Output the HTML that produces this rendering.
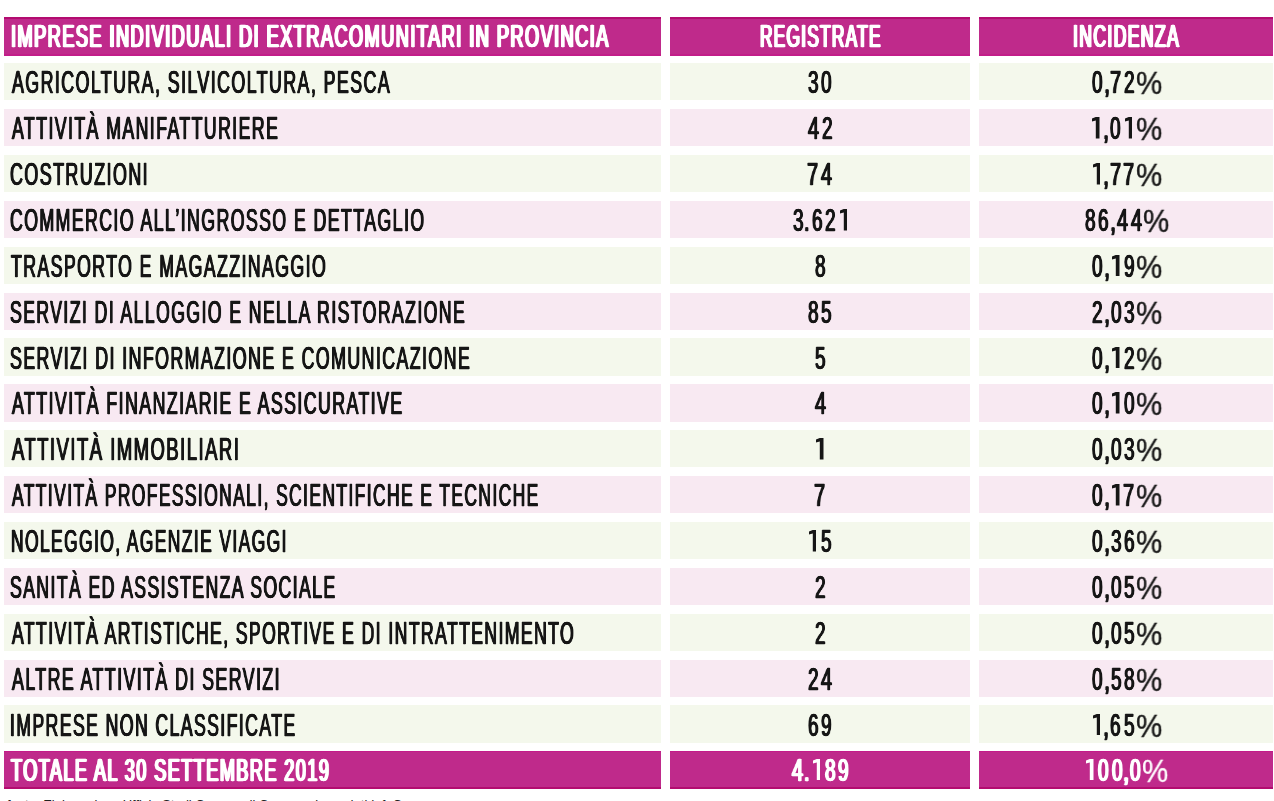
<!DOCTYPE html>
<html><head><meta charset="utf-8"><style>
*{margin:0;padding:0;box-sizing:border-box}
html,body{width:1274px;height:801px;background:#fff;overflow:hidden;position:relative}
body{font-family:"Liberation Sans",sans-serif;font-weight:bold;font-size:30.5px;letter-spacing:2.5px}
.c{position:absolute;height:38px}
.g{background:#f4f8ec}
.p{background:#f8e9f2}
.m{background:#bf2a8b}
.mt{box-shadow:inset 0 2px 0 #b30c70,inset 0 -2px 0 #c21d89}
.mb{box-shadow:inset 0 1px 0 #c41a8a,inset 0 -2px 0 #b30c70}
.t{position:absolute;white-space:nowrap;line-height:1;color:#161616;-webkit-text-stroke:0.4px #161616;transform-origin:0 0;font-weight:normal;text-shadow:0.9px 0 0 #161616,-0.9px 0 0 #161616,0.45px 0 0 #161616,-0.45px 0 0 #161616}
.d{letter-spacing:0;-webkit-text-stroke-width:0.5px;text-shadow:1.0px 0 0 #161616,-1.0px 0 0 #161616,0.5px 0 0 #161616,-0.5px 0 0 #161616;font-weight:normal}
.t{will-change:transform}
.pc{font-weight:normal;-webkit-text-stroke-width:0.4px;text-shadow:none}
.m .t{color:#fff;-webkit-text-stroke:0.5px #fff;text-shadow:1.8px 0 0 #fff,-1.8px 0 0 #fff,0.9px 0 0 #fff,-0.9px 0 0 #fff}
.m .d{text-shadow:1.4px 0 0 #fff,-1.4px 0 0 #fff,0.7px 0 0 #fff,-0.7px 0 0 #fff;-webkit-text-stroke-width:0.5px}
.o{position:absolute;top:8.5px;width:7.5px;height:21.6px;fill:#161616}
.m .o{fill:#fff}
.m .pc{text-shadow:none;-webkit-text-stroke-width:0.3px}
</style></head>
<body>
<div class="c m mt" style="left:4px;top:17.000px;width:657px;height:38.5px"><span class="t" style="left:6.81px;top:3.80px;transform:scaleX(0.5940)">IMPRESE INDIVIDUALI DI EXTRACOMUNITARI IN PROVINCIA</span></div>
<div class="c m mt" style="left:670px;top:17.000px;width:300px;height:38.5px"><span class="t" style="left:89.84px;top:3.80px;transform:scaleX(0.5600)">REGISTRATE</span></div>
<div class="c m mt" style="left:979px;top:17.000px;width:294px;height:38.5px"><span class="t" style="left:94.13px;top:3.80px;transform:scaleX(0.5735)">INCIDENZA</span></div>
<div class="c g" style="left:4px;top:63.175px;width:657px;height:37.3px"><span class="t" style="left:7.58px;top:4.20px;transform:scaleX(0.5822)">AGRICOLTURA, SILVICOLTURA, PESCA</span></div>
<div class="c g" style="left:670px;top:63.175px;width:300px;height:37.3px"><span class="t d" style="left:138.05px;top:4.20px;transform:scaleX(0.6176)">3</span><span class="t d" style="left:151.45px;top:4.20px;transform:scaleX(0.6176)">0</span></div>
<div class="c g" style="left:979px;top:63.175px;width:294px;height:37.3px"><span class="t d" style="left:113.22px;top:4.20px;transform:scaleX(0.6176)">0</span><span class="t d" style="left:124.63px;top:4.20px;transform:scaleX(0.7200)">,</span><span class="t d" style="left:130.92px;top:4.20px;transform:scaleX(0.6562)">7</span><span class="t d" style="left:144.97px;top:4.20px;transform:scaleX(0.6176)">2</span><span class="t d pc" style="left:156.81px;top:3.08px;transform:scale(0.9680,1.0545)">%</span></div>
<div class="c p" style="left:4px;top:109.050px;width:657px;height:37.3px"><span class="t" style="left:7.58px;top:4.20px;transform:scaleX(0.5793)">ATTIVITÀ MANIFATTURIERE</span></div>
<div class="c p" style="left:670px;top:109.050px;width:300px;height:37.3px"><span class="t d" style="left:137.80px;top:4.20px;transform:scaleX(0.6471)">4</span><span class="t d" style="left:151.70px;top:4.20px;transform:scaleX(0.6176)">2</span></div>
<div class="c p" style="left:979px;top:109.050px;width:294px;height:37.3px"><svg class="o" style="left:113.07px;top:8.20px" viewBox="0 0 7.5 21.6"><path d="M3.7 0H7.5V21.6H3.8V3.5L0 4.4V1.4Z"/></svg><span class="t d" style="left:123.88px;top:4.20px;transform:scaleX(0.7200)">,</span><span class="t d" style="left:130.82px;top:4.20px;transform:scaleX(0.6176)">0</span><svg class="o" style="left:145.72px;top:8.20px" viewBox="0 0 7.5 21.6"><path d="M3.7 0H7.5V21.6H3.8V3.5L0 4.4V1.4Z"/></svg><span class="t d pc" style="left:156.96px;top:3.08px;transform:scale(0.9680,1.0545)">%</span></div>
<div class="c g" style="left:4px;top:154.925px;width:657px;height:37.3px"><span class="t" style="left:6.41px;top:4.20px;transform:scaleX(0.5853)">COSTRUZIONI</span></div>
<div class="c g" style="left:670px;top:154.925px;width:300px;height:37.3px"><span class="t d" style="left:137.14px;top:4.20px;transform:scaleX(0.6562)">7</span><span class="t d" style="left:151.20px;top:4.20px;transform:scaleX(0.6471)">4</span></div>
<div class="c g" style="left:979px;top:154.925px;width:294px;height:37.3px"><svg class="o" style="left:113.52px;top:8.20px" viewBox="0 0 7.5 21.6"><path d="M3.7 0H7.5V21.6H3.8V3.5L0 4.4V1.4Z"/></svg><span class="t d" style="left:124.33px;top:4.20px;transform:scaleX(0.7200)">,</span><span class="t d" style="left:130.62px;top:4.20px;transform:scaleX(0.6562)">7</span><span class="t d" style="left:144.02px;top:4.20px;transform:scaleX(0.6562)">7</span><span class="t d pc" style="left:156.51px;top:3.08px;transform:scale(0.9680,1.0545)">%</span></div>
<div class="c p" style="left:4px;top:200.800px;width:657px;height:37.3px"><span class="t" style="left:6.42px;top:4.20px;transform:scaleX(0.5799)">COMMERCIO ALL’INGROSSO E DETTAGLIO</span></div>
<div class="c p" style="left:670px;top:200.800px;width:300px;height:37.3px"><span class="t d" style="left:122.55px;top:4.20px;transform:scaleX(0.6176)">3</span><span class="t d" style="left:134.47px;top:4.20px;transform:scaleX(0.6400)">.</span><span class="t d" style="left:141.65px;top:4.20px;transform:scaleX(0.6176)">6</span><span class="t d" style="left:155.05px;top:4.20px;transform:scaleX(0.6176)">2</span><svg class="o" style="left:169.95px;top:8.20px" viewBox="0 0 7.5 21.6"><path d="M3.7 0H7.5V21.6H3.8V3.5L0 4.4V1.4Z"/></svg></div>
<div class="c p" style="left:979px;top:200.800px;width:294px;height:37.3px"><span class="t d" style="left:106.02px;top:4.20px;transform:scaleX(0.6176)">8</span><span class="t d" style="left:119.42px;top:4.20px;transform:scaleX(0.6176)">6</span><span class="t d" style="left:130.83px;top:4.20px;transform:scaleX(0.7200)">,</span><span class="t d" style="left:137.77px;top:4.20px;transform:scaleX(0.6471)">4</span><span class="t d" style="left:151.67px;top:4.20px;transform:scaleX(0.6471)">4</span><span class="t d pc" style="left:164.01px;top:3.08px;transform:scale(0.9680,1.0545)">%</span></div>
<div class="c g" style="left:4px;top:246.675px;width:657px;height:37.3px"><span class="t" style="left:6.50px;top:4.20px;transform:scaleX(0.5790)">TRASPORTO E MAGAZZINAGGIO</span></div>
<div class="c g" style="left:670px;top:246.675px;width:300px;height:37.3px"><span class="t d" style="left:144.75px;top:4.20px;transform:scaleX(0.6176)">8</span></div>
<div class="c g" style="left:979px;top:246.675px;width:294px;height:37.3px"><span class="t d" style="left:113.22px;top:4.20px;transform:scaleX(0.6176)">0</span><span class="t d" style="left:124.63px;top:4.20px;transform:scaleX(0.7200)">,</span><svg class="o" style="left:133.07px;top:8.20px" viewBox="0 0 7.5 21.6"><path d="M3.7 0H7.5V21.6H3.8V3.5L0 4.4V1.4Z"/></svg><span class="t d" style="left:144.97px;top:4.20px;transform:scaleX(0.6176)">9</span><span class="t d pc" style="left:156.81px;top:3.08px;transform:scale(0.9680,1.0545)">%</span></div>
<div class="c p" style="left:4px;top:292.550px;width:657px;height:37.3px"><span class="t" style="left:6.42px;top:4.20px;transform:scaleX(0.5771)">SERVIZI DI ALLOGGIO E NELLA RISTORAZIONE</span></div>
<div class="c p" style="left:670px;top:292.550px;width:300px;height:37.3px"><span class="t d" style="left:138.05px;top:4.20px;transform:scaleX(0.6176)">8</span><span class="t d" style="left:151.45px;top:4.20px;transform:scaleX(0.6176)">5</span></div>
<div class="c p" style="left:979px;top:292.550px;width:294px;height:37.3px"><span class="t d" style="left:113.22px;top:4.20px;transform:scaleX(0.6176)">2</span><span class="t d" style="left:124.63px;top:4.20px;transform:scaleX(0.7200)">,</span><span class="t d" style="left:131.57px;top:4.20px;transform:scaleX(0.6176)">0</span><span class="t d" style="left:144.97px;top:4.20px;transform:scaleX(0.6176)">3</span><span class="t d pc" style="left:156.81px;top:3.08px;transform:scale(0.9680,1.0545)">%</span></div>
<div class="c g" style="left:4px;top:338.425px;width:657px;height:37.3px"><span class="t" style="left:6.42px;top:4.20px;transform:scaleX(0.5813)">SERVIZI DI INFORMAZIONE E COMUNICAZIONE</span></div>
<div class="c g" style="left:670px;top:338.425px;width:300px;height:37.3px"><span class="t d" style="left:144.75px;top:4.20px;transform:scaleX(0.6176)">5</span></div>
<div class="c g" style="left:979px;top:338.425px;width:294px;height:37.3px"><span class="t d" style="left:113.22px;top:4.20px;transform:scaleX(0.6176)">0</span><span class="t d" style="left:124.63px;top:4.20px;transform:scaleX(0.7200)">,</span><svg class="o" style="left:133.07px;top:8.20px" viewBox="0 0 7.5 21.6"><path d="M3.7 0H7.5V21.6H3.8V3.5L0 4.4V1.4Z"/></svg><span class="t d" style="left:144.97px;top:4.20px;transform:scaleX(0.6176)">2</span><span class="t d pc" style="left:156.81px;top:3.08px;transform:scale(0.9680,1.0545)">%</span></div>
<div class="c p" style="left:4px;top:384.300px;width:657px;height:37.3px"><span class="t" style="left:7.58px;top:4.20px;transform:scaleX(0.5807)">ATTIVITÀ FINANZIARIE E ASSICURATIVE</span></div>
<div class="c p" style="left:670px;top:384.300px;width:300px;height:37.3px"><span class="t d" style="left:144.50px;top:4.20px;transform:scaleX(0.6471)">4</span></div>
<div class="c p" style="left:979px;top:384.300px;width:294px;height:37.3px"><span class="t d" style="left:113.22px;top:4.20px;transform:scaleX(0.6176)">0</span><span class="t d" style="left:124.63px;top:4.20px;transform:scaleX(0.7200)">,</span><svg class="o" style="left:133.07px;top:8.20px" viewBox="0 0 7.5 21.6"><path d="M3.7 0H7.5V21.6H3.8V3.5L0 4.4V1.4Z"/></svg><span class="t d" style="left:144.97px;top:4.20px;transform:scaleX(0.6176)">0</span><span class="t d pc" style="left:156.81px;top:3.08px;transform:scale(0.9680,1.0545)">%</span></div>
<div class="c g" style="left:4px;top:430.175px;width:657px;height:37.3px"><span class="t" style="left:7.60px;top:4.20px;transform:scaleX(0.6037)">ATTIVITÀ IMMOBILIARI</span></div>
<div class="c g" style="left:670px;top:430.175px;width:300px;height:37.3px"><svg class="o" style="left:146.25px;top:8.20px" viewBox="0 0 7.5 21.6"><path d="M3.7 0H7.5V21.6H3.8V3.5L0 4.4V1.4Z"/></svg></div>
<div class="c g" style="left:979px;top:430.175px;width:294px;height:37.3px"><span class="t d" style="left:113.22px;top:4.20px;transform:scaleX(0.6176)">0</span><span class="t d" style="left:124.63px;top:4.20px;transform:scaleX(0.7200)">,</span><span class="t d" style="left:131.57px;top:4.20px;transform:scaleX(0.6176)">0</span><span class="t d" style="left:144.97px;top:4.20px;transform:scaleX(0.6176)">3</span><span class="t d pc" style="left:156.81px;top:3.08px;transform:scale(0.9680,1.0545)">%</span></div>
<div class="c p" style="left:4px;top:476.050px;width:657px;height:37.3px"><span class="t" style="left:7.57px;top:4.20px;transform:scaleX(0.5706)">ATTIVITÀ PROFESSIONALI, SCIENTIFICHE E TECNICHE</span></div>
<div class="c p" style="left:670px;top:476.050px;width:300px;height:37.3px"><span class="t d" style="left:144.09px;top:4.20px;transform:scaleX(0.6562)">7</span></div>
<div class="c p" style="left:979px;top:476.050px;width:294px;height:37.3px"><span class="t d" style="left:113.22px;top:4.20px;transform:scaleX(0.6176)">0</span><span class="t d" style="left:124.63px;top:4.20px;transform:scaleX(0.7200)">,</span><svg class="o" style="left:133.07px;top:8.20px" viewBox="0 0 7.5 21.6"><path d="M3.7 0H7.5V21.6H3.8V3.5L0 4.4V1.4Z"/></svg><span class="t d" style="left:144.32px;top:4.20px;transform:scaleX(0.6562)">7</span><span class="t d pc" style="left:156.81px;top:3.08px;transform:scale(0.9680,1.0545)">%</span></div>
<div class="c g" style="left:4px;top:521.925px;width:657px;height:37.3px"><span class="t" style="left:6.83px;top:4.20px;transform:scaleX(0.5704)">NOLEGGIO, AGENZIE VIAGGI</span></div>
<div class="c g" style="left:670px;top:521.925px;width:300px;height:37.3px"><svg class="o" style="left:138.80px;top:8.20px" viewBox="0 0 7.5 21.6"><path d="M3.7 0H7.5V21.6H3.8V3.5L0 4.4V1.4Z"/></svg><span class="t d" style="left:150.70px;top:4.20px;transform:scaleX(0.6176)">5</span></div>
<div class="c g" style="left:979px;top:521.925px;width:294px;height:37.3px"><span class="t d" style="left:113.22px;top:4.20px;transform:scaleX(0.6176)">0</span><span class="t d" style="left:124.63px;top:4.20px;transform:scaleX(0.7200)">,</span><span class="t d" style="left:131.57px;top:4.20px;transform:scaleX(0.6176)">3</span><span class="t d" style="left:144.97px;top:4.20px;transform:scaleX(0.6176)">6</span><span class="t d pc" style="left:156.81px;top:3.08px;transform:scale(0.9680,1.0545)">%</span></div>
<div class="c p" style="left:4px;top:567.800px;width:657px;height:37.3px"><span class="t" style="left:6.42px;top:4.20px;transform:scaleX(0.5764)">SANITÀ ED ASSISTENZA SOCIALE</span></div>
<div class="c p" style="left:670px;top:567.800px;width:300px;height:37.3px"><span class="t d" style="left:144.75px;top:4.20px;transform:scaleX(0.6176)">2</span></div>
<div class="c p" style="left:979px;top:567.800px;width:294px;height:37.3px"><span class="t d" style="left:113.22px;top:4.20px;transform:scaleX(0.6176)">0</span><span class="t d" style="left:124.63px;top:4.20px;transform:scaleX(0.7200)">,</span><span class="t d" style="left:131.57px;top:4.20px;transform:scaleX(0.6176)">0</span><span class="t d" style="left:144.97px;top:4.20px;transform:scaleX(0.6176)">5</span><span class="t d pc" style="left:156.81px;top:3.08px;transform:scale(0.9680,1.0545)">%</span></div>
<div class="c g" style="left:4px;top:613.675px;width:657px;height:37.3px"><span class="t" style="left:7.58px;top:4.20px;transform:scaleX(0.5758)">ATTIVITÀ ARTISTICHE, SPORTIVE E DI INTRATTENIMENTO</span></div>
<div class="c g" style="left:670px;top:613.675px;width:300px;height:37.3px"><span class="t d" style="left:144.75px;top:4.20px;transform:scaleX(0.6176)">2</span></div>
<div class="c g" style="left:979px;top:613.675px;width:294px;height:37.3px"><span class="t d" style="left:113.22px;top:4.20px;transform:scaleX(0.6176)">0</span><span class="t d" style="left:124.63px;top:4.20px;transform:scaleX(0.7200)">,</span><span class="t d" style="left:131.57px;top:4.20px;transform:scaleX(0.6176)">0</span><span class="t d" style="left:144.97px;top:4.20px;transform:scaleX(0.6176)">5</span><span class="t d pc" style="left:156.81px;top:3.08px;transform:scale(0.9680,1.0545)">%</span></div>
<div class="c p" style="left:4px;top:659.550px;width:657px;height:37.3px"><span class="t" style="left:7.58px;top:4.20px;transform:scaleX(0.5817)">ALTRE ATTIVITÀ DI SERVIZI</span></div>
<div class="c p" style="left:670px;top:659.550px;width:300px;height:37.3px"><span class="t d" style="left:137.80px;top:4.20px;transform:scaleX(0.6176)">2</span><span class="t d" style="left:151.20px;top:4.20px;transform:scaleX(0.6471)">4</span></div>
<div class="c p" style="left:979px;top:659.550px;width:294px;height:37.3px"><span class="t d" style="left:113.22px;top:4.20px;transform:scaleX(0.6176)">0</span><span class="t d" style="left:124.63px;top:4.20px;transform:scaleX(0.7200)">,</span><span class="t d" style="left:131.57px;top:4.20px;transform:scaleX(0.6176)">5</span><span class="t d" style="left:144.97px;top:4.20px;transform:scaleX(0.6176)">8</span><span class="t d pc" style="left:156.81px;top:3.08px;transform:scale(0.9680,1.0545)">%</span></div>
<div class="c g" style="left:4px;top:705.425px;width:657px;height:37.3px"><span class="t" style="left:6.25px;top:4.20px;transform:scaleX(0.5770)">IMPRESE NON CLASSIFICATE</span></div>
<div class="c g" style="left:670px;top:705.425px;width:300px;height:37.3px"><span class="t d" style="left:138.05px;top:4.20px;transform:scaleX(0.6176)">6</span><span class="t d" style="left:151.45px;top:4.20px;transform:scaleX(0.6176)">9</span></div>
<div class="c g" style="left:979px;top:705.425px;width:294px;height:37.3px"><svg class="o" style="left:113.52px;top:8.20px" viewBox="0 0 7.5 21.6"><path d="M3.7 0H7.5V21.6H3.8V3.5L0 4.4V1.4Z"/></svg><span class="t d" style="left:124.33px;top:4.20px;transform:scaleX(0.7200)">,</span><span class="t d" style="left:131.27px;top:4.20px;transform:scaleX(0.6176)">6</span><span class="t d" style="left:144.67px;top:4.20px;transform:scaleX(0.6176)">5</span><span class="t d pc" style="left:156.51px;top:3.08px;transform:scale(0.9680,1.0545)">%</span></div>
<div class="c m mb" style="left:4px;top:751.000px;width:657px;height:37.6px"><span class="t" style="left:7.09px;top:3.80px;transform:scaleX(0.5915)">TOTALE AL 30 SETTEMBRE 2019</span></div>
<div class="c m mb" style="left:670px;top:751.000px;width:300px;height:37.6px"><span class="t d" style="left:121.55px;top:3.80px;transform:scaleX(0.6471)">4</span><span class="t d" style="left:133.97px;top:3.80px;transform:scaleX(0.6400)">.</span><svg class="o" style="left:142.65px;top:7.80px" viewBox="0 0 7.5 21.6"><path d="M3.7 0H7.5V21.6H3.8V3.5L0 4.4V1.4Z"/></svg><span class="t d" style="left:154.55px;top:3.80px;transform:scaleX(0.6176)">8</span><span class="t d" style="left:167.95px;top:3.80px;transform:scaleX(0.6176)">9</span></div>
<div class="c m mb" style="left:979px;top:751.000px;width:294px;height:37.6px"><svg class="o" style="left:107.27px;top:7.80px" viewBox="0 0 7.5 21.6"><path d="M3.7 0H7.5V21.6H3.8V3.5L0 4.4V1.4Z"/></svg><span class="t d" style="left:119.17px;top:3.80px;transform:scaleX(0.6176)">0</span><span class="t d" style="left:132.57px;top:3.80px;transform:scaleX(0.6176)">0</span><span class="t d" style="left:143.98px;top:3.80px;transform:scaleX(0.7200)">,</span><span class="t d" style="left:150.92px;top:3.80px;transform:scaleX(0.6176)">0</span><span class="t d pc" style="left:162.76px;top:2.68px;transform:scale(0.9680,1.0545)">%</span></div>
<div style="position:absolute;left:7px;top:797.8px;line-height:1;font-size:13px;font-weight:normal;letter-spacing:0;color:#222;white-space:nowrap">fonte: Elaborazione Ufficio Studi Camera di Commercio su dati InfoCamere</div>
</body></html>
